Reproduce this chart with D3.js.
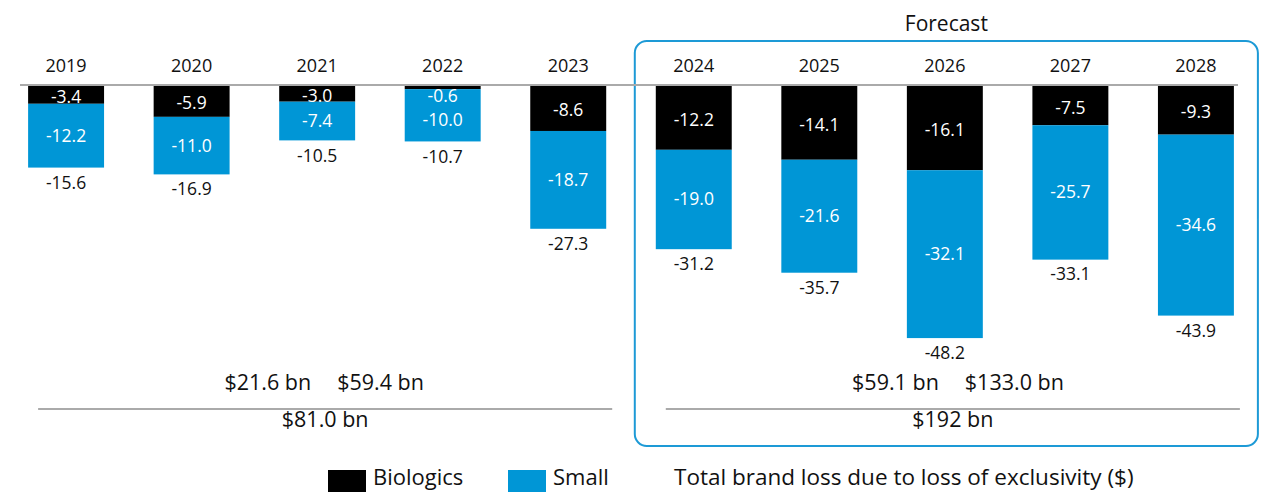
<!DOCTYPE html>
<html>
<head>
<meta charset="utf-8">
<script src="https://cdn.jsdelivr.net/npm/d3@7"></script>
<style>
  body { margin: 0; background: #fff; }
  text { font-family: "Open Sans", Lato, sans-serif; }
</style>
</head>
<body>
<div id="chart"></div>
<script>
// data ($ bn)
const years = ['2019','2020','2021','2022','2023','2024','2025','2026','2027','2028'];
const biologics = [-3.4,-5.9,-3.0,-0.6,-8.6,-12.2,-14.1,-16.1,-7.5,-9.3];
const small = [-12.2,-11.0,-7.4,-10.0,-18.7,-19.0,-21.6,-32.1,-25.7,-34.6];
const totals = [-15.6,-16.9,-10.5,-10.7,-27.3,-31.2,-35.7,-48.2,-33.1,-43.9];
const periods = ['2019-2023','2024-2028'];
const periodBio = ['$21.6 bn','$59.1 bn'];
const periodSmall = ['$59.4 bn','$133.0 bn'];
const periodTotal = ['$81.0 bn','$192 bn'];

let width = 1262;
let height = 492;
let top0 = 86;

const blue = '#0096d6';

let x = d3.scaleBand()
  .domain(years)
  .range([3, 1259])
  .paddingInner(0.395)
  .paddingOuter(0.2);

let y = d3.scaleLinear()
  .domain([0, -50])
  .range([top0, top0 + 50 * 5.23]);

let svg = d3.select('#chart').append('svg')
  .attr('width', width)
  .attr('height', height);

let rows = years.map(function(d, i) {
  return { year: d, bio: biologics[i], small: small[i], total: totals[i] };
});

// forecast box
let fx0 = x('2024') - 21;
let fx1 = x('2028') + x.bandwidth() + 24;
svg.append('rect')
  .attr('x', fx0).attr('y', 41)
  .attr('width', fx1 - fx0).attr('height', 405)
  .attr('rx', 12)
  .style('fill', 'none')
  .style('stroke', '#1d9ad6')
  .style('stroke-width', 2);

svg.append('text')
  .attr('x', (fx0 + fx1) / 2).attr('y', 31)
  .attr('text-anchor', 'middle')
  .style('font-size', '21px')
  .style('fill', '#111')
  .text('Forecast');

// year labels
svg.selectAll('.year')
  .data(rows)
  .join('text')
  .attr('class', 'year')
  .attr('x', d => x(d.year) + x.bandwidth() / 2)
  .attr('y', 72)
  .attr('text-anchor', 'middle')
  .style('font-size', '18px')
  .style('fill', '#111')
  .text(d => d.year);

// bars: biologics on top, small below
svg.selectAll('.bio')
  .data(rows)
  .join('rect')
  .attr('class', 'bio')
  .attr('x', d => x(d.year))
  .attr('y', y(0))
  .attr('width', x.bandwidth())
  .attr('height', d => y(d.bio) - y(0))
  .style('fill', '#000');

svg.selectAll('.small')
  .data(rows)
  .join('rect')
  .attr('class', 'small')
  .attr('x', d => x(d.year))
  .attr('y', d => y(d.bio))
  .attr('width', x.bandwidth())
  .attr('height', d => y(d.bio + d.small) - y(d.bio))
  .style('fill', blue);

// baseline
svg.append('line')
  .attr('x1', 20).attr('x2', 1238)
  .attr('y1', top0 - 1).attr('y2', top0 - 1)
  .style('stroke', '#aaa')
  .style('stroke-width', 2);

// value labels
svg.selectAll('.bioLabel')
  .data(rows)
  .join('text')
  .attr('class', 'bioLabel')
  .attr('x', d => x(d.year) + x.bandwidth() / 2)
  .attr('y', d => Math.max((y(0) + y(d.bio)) / 2 + 2, 96) + 6)
  .attr('text-anchor', 'middle')
  .style('font-size', '17.5px')
  .style('fill', '#fff')
  .text(d => d.bio.toFixed(1));

svg.selectAll('.smallLabel')
  .data(rows)
  .join('text')
  .attr('class', 'smallLabel')
  .attr('x', d => x(d.year) + x.bandwidth() / 2)
  .attr('y', d => Math.max((y(d.bio) + y(d.bio + d.small)) / 2, 120) + 6)
  .attr('text-anchor', 'middle')
  .style('font-size', '17.5px')
  .style('fill', '#fff')
  .text(d => d.small.toFixed(1));

svg.selectAll('.totalLabel')
  .data(rows)
  .join('text')
  .attr('class', 'totalLabel')
  .attr('x', d => x(d.year) + x.bandwidth() / 2)
  .attr('y', d => y(d.total) + 21)
  .attr('text-anchor', 'middle')
  .style('font-size', '17.5px')
  .style('fill', '#111')
  .text(d => d.total.toFixed(1));

// period summaries
let spans = [['2019','2023'], ['2024','2028']];
periods.forEach(function(p, i) {
  let a = x(spans[i][0]) + 10;
  let b = x(spans[i][1]) + x.bandwidth() + 6;
  let c = (a + b) / 2;
  svg.append('text')
    .attr('x', c - 14).attr('y', 390)
    .attr('text-anchor', 'end')
    .style('font-size', '21.5px').style('fill', '#111')
    .text(periodBio[i]);
  svg.append('text')
    .attr('x', c + 12).attr('y', 390)
    .attr('text-anchor', 'start')
    .style('font-size', '21.5px').style('fill', '#111')
    .text(periodSmall[i]);
  svg.append('line')
    .attr('x1', a).attr('x2', b)
    .attr('y1', 409).attr('y2', 409)
    .style('stroke', '#aaa')
    .style('stroke-width', 2);
  svg.append('text')
    .attr('x', c).attr('y', 427)
    .attr('text-anchor', 'middle')
    .style('font-size', '21.5px').style('fill', '#111')
    .text(periodTotal[i]);
});

// legend
let legend = [
  { name: 'Biologics', color: '#000', x: 328 },
  { name: 'Small', color: blue, x: 508 }
];
legend.forEach(function(l) {
  svg.append('rect')
    .attr('x', l.x).attr('y', 470)
    .attr('width', 38).attr('height', 22)
    .style('fill', l.color);
  svg.append('text')
    .attr('x', l.x + 45).attr('y', 485)
    .style('font-size', '22px').style('fill', '#111')
    .text(l.name);
});
svg.append('text')
  .attr('x', 674).attr('y', 485)
  .style('font-size', '22.5px').style('fill', '#111')
  .text('Total brand loss due to loss of exclusivity ($)');
</script>
</body>
</html>
